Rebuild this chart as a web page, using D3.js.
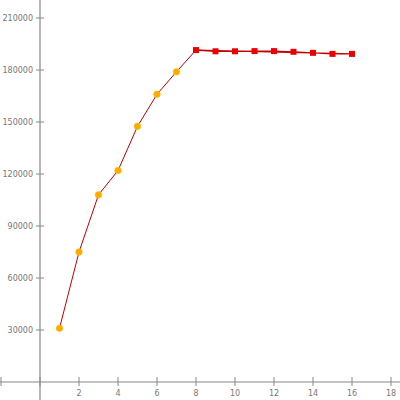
<!DOCTYPE html>
<html><head><meta charset="utf-8">
<script src="https://cdn.jsdelivr.net/npm/d3@7"></script>
<style>body{margin:0;background:#fff;}svg{display:block;}</style>
</head><body>
<svg id="c" width="400" height="400"></svg>
<script>
const xTicks = [-2, 0, 2, 4, 6, 8, 10, 12, 14, 16, 18];
const yTicks = [30000, 60000, 90000, 120000, 150000, 180000, 210000];
const seriesAX = [1, 2, 3, 4, 5, 6, 7];
const seriesAY = [31000, 75000, 108000, 122000, 147500, 166000, 179000];
const seriesBX = [8, 9, 10, 11, 12, 13, 14, 15, 16];
const seriesBY = [191500, 190800, 190800, 190900, 190900, 190500, 189900, 189300, 189300];

const svg = d3.select("#c");
const x = d3.scaleLinear().domain([0, 18]).range([40, 391]);
const y = d3.scaleLinear().domain([0, 210000]).range([382, 18]);
const axisColor = "#888";
const textColor = "#777";
const font = "DejaVu Sans, sans-serif";

// axis lines
svg.append("line").attr("x1", 0).attr("x2", 400).attr("y1", y(0)).attr("y2", y(0))
  .attr("stroke", axisColor).attr("stroke-width", 1.2);
svg.append("line").attr("x1", x(0)).attr("x2", x(0)).attr("y1", 0).attr("y2", 400)
  .attr("stroke", axisColor).attr("stroke-width", 1.2);

// x ticks
const xa = svg.append("g");
xTicks.forEach(t => {
  xa.append("line").attr("x1", x(t)).attr("x2", x(t)).attr("y1", y(0) - 5).attr("y2", y(0) + 4)
    .attr("stroke", axisColor).attr("stroke-width", 1);
  if (t > 0) xa.append("text").attr("x", x(t)).attr("y", y(0) + 14).attr("text-anchor", "middle")
    .attr("font-family", font).attr("font-size", 8).attr("fill", textColor).text(t);
});
// y ticks
const ya = svg.append("g");
yTicks.forEach(t => {
  ya.append("line").attr("x1", x(0) - 4).attr("x2", x(0) + 4).attr("y1", y(t)).attr("y2", y(t))
    .attr("stroke", axisColor).attr("stroke-width", 1);
  ya.append("text").attr("x", x(0) - 7).attr("y", y(t) + 3).attr("text-anchor", "end")
    .attr("font-family", font).attr("font-size", 8).attr("fill", textColor).text(t);
});

const line = d3.line().x(d => x(d[0])).y(d => y(d[1]));
const A = seriesAX.map((v, i) => [v, seriesAY[i]]);
const B = seriesBX.map((v, i) => [v, seriesBY[i]]);
const lineColor = "#c00000";
svg.append("path").attr("d", line(A.concat([B[0]]))).attr("fill", "none")
  .attr("stroke", lineColor).attr("stroke-width", 1);
svg.append("path").attr("d", d3.line().x(d => x(d[0])).y(d => y(d[1])).curve(d3.curveLinearClosed)(B))
  .attr("fill", "none").attr("stroke", lineColor).attr("stroke-width", 1.2);

svg.append("g").selectAll("circle").data(A).join("circle")
  .attr("cx", d => x(d[0])).attr("cy", d => y(d[1])).attr("r", 3.3)
  .attr("fill", "#ffaa00").attr("stroke", "#ffc000").attr("stroke-width", 0.6);
svg.append("g").selectAll("rect").data(B).join("rect")
  .attr("x", d => x(d[0]) - 3).attr("y", d => y(d[1]) - 3).attr("width", 6).attr("height", 6)
  .attr("fill", "#ee0000");
</script>
</body></html>
